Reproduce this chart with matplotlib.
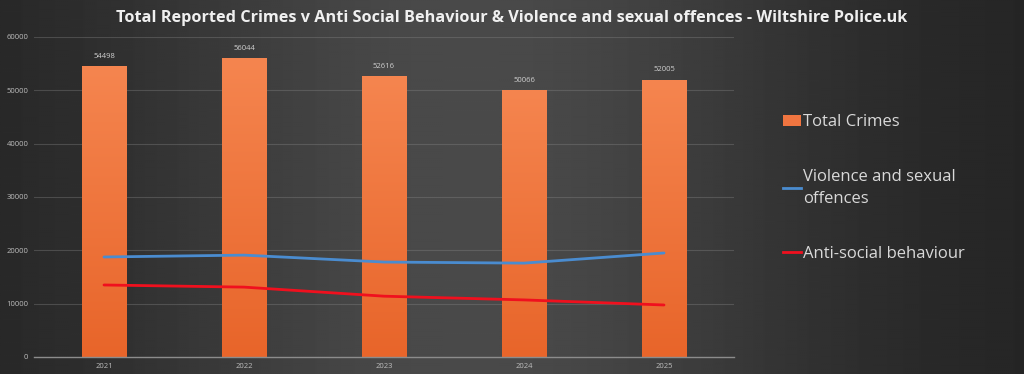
import numpy as np
import matplotlib.pyplot as plt
from matplotlib.lines import Line2D
from matplotlib.patches import Patch
from matplotlib.colors import LinearSegmentedColormap

# data
years = ['2021', '2022', '2023', '2024', '2025']
total_crimes = [54498, 56044, 52616, 50066, 52005]
violence_sexual = [18750, 19100, 17800, 17600, 19500]
anti_social = [13500, 13100, 11400, 10700, 9750]

plt.rcParams['font.family'] = ['Open Sans', 'DejaVu Sans']

fig = plt.figure(figsize=(10.24, 3.74), dpi=100)

# dark background, lighter in the middle
bg = fig.add_axes([0, 0, 1, 1], zorder=-10)
xs = np.linspace(0, 1, 512)
shade = 0.135 + 0.155 * np.exp(-((xs - 0.46) / 0.34) ** 2)
grad = np.tile(shade, (50, 1))
bg.imshow(grad, cmap='gray', vmin=0, vmax=1, aspect='auto', extent=[0, 1, 0, 1],
          interpolation='bilinear')
bg.set_axis_off()

ax = fig.add_axes([0.0332, 0.0455, 0.6836, 0.8556])
ax.patch.set_alpha(0)

x = np.arange(len(years))
bars = ax.bar(x, total_crimes, width=0.315, color='#F07540', edgecolor='#C9592A',
              linewidth=0.6, zorder=2, label='Total Crimes')

# vertical gradient inside each bar
bar_grad = np.linspace(0, 1, 100).reshape(-1, 1)
bar_cmap = LinearSegmentedColormap.from_list('bar', ['#E8652A', '#F5854F'])
for b in bars:
    x0, w, h = b.get_x(), b.get_width(), b.get_height()
    im = ax.imshow(bar_grad, cmap=bar_cmap, aspect='auto', origin='lower',
                   extent=[x0, x0 + w, 0, h], zorder=2.1)
    im.set_clip_path(b)

for xi, v in zip(x, total_crimes):
    ax.text(xi, v + 1200, str(v), ha='center', va='bottom', fontsize=5.5,
            color='#D0D0D0')

ax.plot(x, violence_sexual, color='#4A8CD0', lw=2, zorder=3,
        solid_capstyle='round')
ax.plot(x, anti_social, color='#F0101E', lw=2, zorder=3,
        solid_capstyle='round')

ax.set_xlim(-0.5, 4.5)
ax.set_ylim(0, 60000)
ax.set_yticks(range(0, 60001, 10000))
ax.set_xticks(x)
ax.set_xticklabels(years)
ax.tick_params(axis='both', length=0, labelsize=5.5, colors='#BDBDBD', pad=4)
ax.grid(axis='y', color='#8a8a8a', alpha=0.35, lw=0.8, zorder=0)
ax.set_axisbelow(True)
for s in ['top', 'right', 'left']:
    ax.spines[s].set_visible(False)
ax.spines['bottom'].set_color('#8C8C8C')
ax.spines['bottom'].set_linewidth(1)

fig.text(0.5, 0.953, 'Total Reported Crimes v Anti Social Behaviour & Violence and sexual offences - Wiltshire Police.uk',
         ha='center', va='center', fontsize=11.7, fontweight='bold', color='#F0F0F0')

handles = [Patch(facecolor='#F07540', edgecolor='none'),
           Line2D([0], [0], color='#4A8CD0', lw=2),
           Line2D([0], [0], color='#F0101E', lw=2)]
labels = ['Total Crimes', 'Violence and sexual\noffences', 'Anti-social behaviour']
leg = fig.legend(handles, labels, loc='upper left', bbox_to_anchor=(0.750, 0.734),
                 frameon=False, fontsize=12, labelcolor='#D9D9D9',
                 handlelength=1.1, handletextpad=0.1, labelspacing=2.3,
                 handleheight=0.7)
for t in leg.get_texts():
    t.set_linespacing(1.55)

fig.savefig('out.png', dpi=100, facecolor='#2a2a2a')
